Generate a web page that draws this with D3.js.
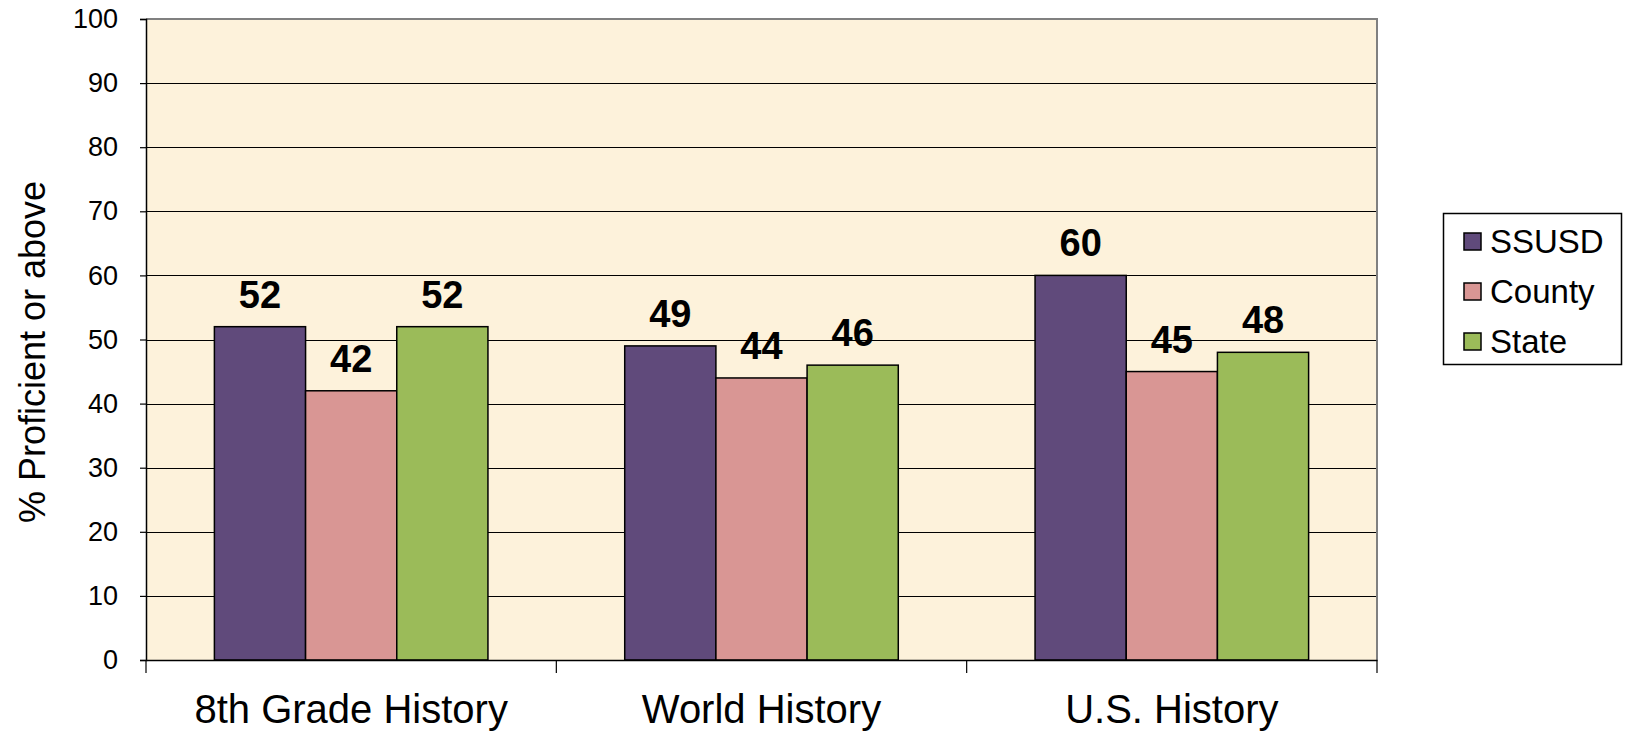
<!DOCTYPE html>
<html><head><meta charset="utf-8">
<script src="https://cdn.jsdelivr.net/npm/d3@7"></script>
<style>html,body{margin:0;padding:0;background:#fff;}svg{display:block;font-family:Arial,"Liberation Sans",sans-serif;}</style>
</head><body>
<svg id="chart" width="1626" height="735"></svg>
<script>
const categories = ["8th Grade History", "World History", "U.S. History"];
const seriesNames = ["SSUSD", "County", "State"];
const ssusd = [52, 49, 60];
const county = [42, 44, 45];
const state = [52, 46, 48];
const yTicks = [0, 10, 20, 30, 40, 50, 60, 70, 80, 90, 100];
const colors = ["#604A7B", "#D99694", "#9BBB59"];
const seriesValues = [ssusd, county, state];

const svg = d3.select("#chart");
const L = 146, R = 1377, T = 19, B = 660;

const x0 = d3.scaleBand().domain(categories).range([L, R]).paddingInner(0).paddingOuter(0);
const bw = x0.bandwidth();
const barW = bw / 4.5;
const x1 = d3.scaleBand().domain(seriesNames).range([bw/2 - 1.5*barW, bw/2 + 1.5*barW]).padding(0);
const y = d3.scaleLinear().domain([0, 100]).range([B, T]);

svg.append("rect").attr("x", L).attr("y", T).attr("width", R - L).attr("height", B - T).attr("fill", "#FDF2DB");

svg.append("g").selectAll("line").data(yTicks.filter(d => d > 0 && d < 100)).join("line")
  .attr("x1", L).attr("x2", R).attr("y1", d => Math.round(y(d)) + 0.5).attr("y2", d => Math.round(y(d)) + 0.5)
  .attr("stroke", "#000").attr("stroke-width", 1.2);

svg.append("path").attr("d", `M${L},${T}H${R}V${B}`).attr("fill", "none").attr("stroke", "#808080").attr("stroke-width", 2);

const data = [];
categories.forEach((c, i) => seriesNames.forEach((s, j) => data.push({c, s, v: seriesValues[j][i], j})));
svg.append("g").selectAll("rect").data(data).join("rect")
  .attr("x", d => x0(d.c) + x1(d.s))
  .attr("y", d => y(d.v))
  .attr("width", x1.bandwidth())
  .attr("height", d => B - y(d.v))
  .attr("fill", d => colors[d.j])
  .attr("stroke", "#000").attr("stroke-width", 1.5);

svg.append("g").selectAll("text").data(data).join("text")
  .attr("x", d => x0(d.c) + x1(d.s) + x1.bandwidth()/2)
  .attr("y", d => y(d.v) - 19)
  .attr("text-anchor", "middle")
  .attr("font-weight", "bold").attr("font-size", 38).attr("fill", "#000")
  .text(d => d.v);

const yAxis = d3.axisLeft(y).tickValues(yTicks).tickSize(6).tickPadding(22);
const gy = svg.append("g").attr("transform", `translate(${L},0)`).call(yAxis);
gy.select(".domain").attr("stroke", "#000").attr("stroke-width", 1.5);
gy.selectAll(".tick line").attr("stroke", "#000").attr("stroke-width", 1.2);
gy.selectAll(".tick text").attr("font-size", 27).attr("fill", "#000").attr("font-family", "Arial, 'Liberation Sans', sans-serif");

const xAxis = d3.axisBottom(x0).tickSize(0).tickPadding(0).tickFormat("");
const gx = svg.append("g").attr("transform", `translate(0,${B})`).call(xAxis);
gx.select(".domain").attr("stroke", "#000").attr("stroke-width", 1.5);
const sepPos = categories.map(c => x0(c)).concat([R]);
svg.append("g").selectAll("line").data(sepPos).join("line")
  .attr("x1", d => d).attr("x2", d => d).attr("y1", B).attr("y2", B + 13)
  .attr("stroke", "#000").attr("stroke-width", 1.2);
svg.append("g").selectAll("text").data(categories).join("text")
  .attr("x", d => x0(d) + bw/2).attr("y", 723)
  .attr("text-anchor", "middle").attr("font-size", 40).attr("fill", "#000")
  .text(d => d);

svg.append("text").attr("transform", "translate(45,352) rotate(-90)")
  .attr("text-anchor", "middle").attr("font-size", 36).attr("fill", "#000")
  .text("% Proficient or above");

const lg = svg.append("g");
lg.append("rect").attr("x", 1443.5).attr("y", 213.5).attr("width", 178).attr("height", 151)
  .attr("fill", "#fff").attr("stroke", "#000").attr("stroke-width", 1.5);
const rowY = d3.scalePoint().domain(seriesNames).range([242, 342]);
lg.selectAll("rect.sw").data(seriesNames).join("rect").attr("class", "sw")
  .attr("x", 1464).attr("y", d => rowY(d) - 9).attr("width", 17).attr("height", 17)
  .attr("fill", (d, i) => colors[i]).attr("stroke", "#000").attr("stroke-width", 1.5);
lg.selectAll("text").data(seriesNames).join("text")
  .attr("x", 1490).attr("y", d => rowY(d) + 11)
  .attr("font-size", 33).attr("fill", "#000").text(d => d);
</script>
</body></html>
